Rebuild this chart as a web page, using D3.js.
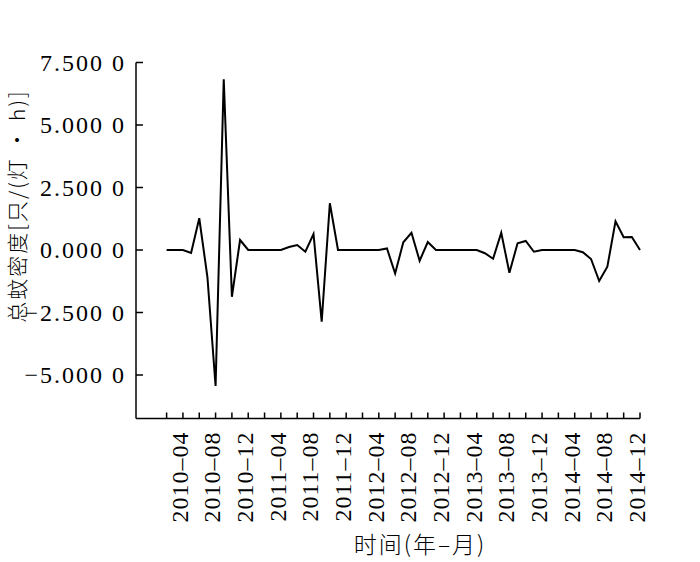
<!DOCTYPE html>
<html lang="zh">

<head>
    <meta charset="UTF-8">
    <title>总蚊密度</title>
    <script src="https://cdnjs.cloudflare.com/ajax/libs/d3/7.8.5/d3.min.js"></script>
    <style>
        body {
            margin: 0;
            background: white;
        }

        svg#main {
            display: block;
        }

        .axis path,
        .axis line {
            stroke: black;
            stroke-width: 1.5px;
        }

        .axis text {
            font-family: 'Liberation Serif', 'DejaVu Serif', serif;
            font-size: 24px;
            letter-spacing: 2px;
            fill: black;
        }

        .axis.x text {
            letter-spacing: 1px;
        }

        .title {
            font-family: 'Noto Sans CJK SC', sans-serif;
            font-weight: 300;
            font-size: 22px;
            fill: black;
        }

        path.series {
            fill: none;
            stroke: black;
            stroke-width: 2px;
            stroke-linejoin: miter;
        }
    </style>
</head>

<body>
    <svg id="main" width="700" height="562"></svg>
    <script>
        "use strict";

        // monthly values, 2010-02 .. 2014-12
        const startYear = 2010;
        const startMonth = 2;
        const values = [
            0, 0, 0, -0.12, 1.27, -1.08, -5.44, 6.83, -1.87, 0.4,
            0, 0, 0, 0, 0, 0.12, 0.2, -0.07, 0.64, -2.87,
            1.87, 0, 0, 0, 0, 0, 0, 0.06, -0.94, 0.31,
            0.69, -0.43, 0.32, 0, 0, 0, 0, 0, 0, -0.13,
            -0.35, 0.69, -0.91, 0.27, 0.36, -0.07, 0, 0, 0, 0,
            0, -0.09, -0.36, -1.24, -0.67, 1.15, 0.51, 0.52, 0
        ];
        const yTicks = [7.5, 5, 2.5, 0, -2.5, -5];
        const xTickLabels = [
            "2010–04", "2010–08", "2010–12", "2011–04", "2011–08",
            "2011–12", "2012–04", "2012–08", "2012–12", "2013–04",
            "2013–08", "2013–12", "2014–04", "2014–08", "2014–12"
        ];
        const xTitle = "时间(年–月)";
        const yTitle = "总蚊密度[只/(灯 · h)]";

        !function () {
            const plotLeft = 136, plotRight = 640, plotTop = 62.5, plotBottom = 418.5;
            const tickLen = 6;

            const svg = d3.select("svg#main");

            // month index 0 = 2010-02
            const x = d3.scaleLinear()
                .domain([-3.75, values.length - 1])
                .range([plotLeft, plotRight]);

            const y = d3.scaleLinear()
                .domain([-6.74, 7.5])
                .range([plotBottom, plotTop]);

            function monthIndex(label) {
                const parts = label.split("–");
                return (+parts[0] - startYear) * 12 + (+parts[1] - startMonth);
            }

            function formatY(v) {
                let s = d3.format(".4f")(Math.abs(v));
                s = s.slice(0, -1) + " " + s.slice(-1);
                return (v < 0 ? "−" : "") + s;
            }

            // ticks every two months, labels every four
            const minorTicks = d3.range(0, values.length, 2);
            const labelIndex = xTickLabels.map(monthIndex);

            const xAxis = svg.append("g")
                .attr("class", "axis x")
                .attr("transform", "translate(0," + plotBottom + ")");

            xAxis.append("line")
                .attr("x1", plotLeft).attr("x2", plotRight)
                .attr("y1", 0).attr("y2", 0);

            xAxis.selectAll("line.tick")
                .data(minorTicks)
                .enter().append("line")
                .attr("class", "tick")
                .attr("x1", d => x(d)).attr("x2", d => x(d))
                .attr("y1", 0).attr("y2", -tickLen);

            xAxis.selectAll("text")
                .data(xTickLabels)
                .enter().append("text")
                .attr("transform", (d, i) => "translate(" + x(labelIndex[i]) + ",13) rotate(-90)")
                .attr("text-anchor", "end")
                .attr("dy", "0.2em")
                .text(d => d);

            const yAxis = svg.append("g")
                .attr("class", "axis y")
                .attr("transform", "translate(" + plotLeft + ",0)");

            yAxis.append("line")
                .attr("x1", 0).attr("x2", 0)
                .attr("y1", plotTop).attr("y2", plotBottom);

            yAxis.selectAll("line.tick")
                .data(yTicks)
                .enter().append("line")
                .attr("class", "tick")
                .attr("x1", 0).attr("x2", tickLen + 1)
                .attr("y1", d => y(d)).attr("y2", d => y(d));

            yAxis.selectAll("text")
                .data(yTicks)
                .enter().append("text")
                .attr("x", -10)
                .attr("y", d => y(d))
                .attr("dy", "0.35em")
                .attr("text-anchor", "end")
                .text(formatY);

            const line = d3.line()
                .x((d, i) => x(i))
                .y(d => y(d));

            svg.append("path")
                .datum(values)
                .attr("class", "series")
                .attr("d", line);

            svg.append("text")
                .attr("class", "title")
                .attr("x", 420)
                .attr("y", 553)
                .attr("text-anchor", "middle")
                .style("font-size", "23px")
                .style("letter-spacing", "2px")
                .text(xTitle);

            svg.append("text")
                .attr("class", "title")
                .attr("transform", "translate(25,206) rotate(-90)")
                .attr("text-anchor", "middle")
                .style("font-size", "21px")
                .style("letter-spacing", "2px")
                .text(yTitle);
        }();
    </script>
</body>

</html>
